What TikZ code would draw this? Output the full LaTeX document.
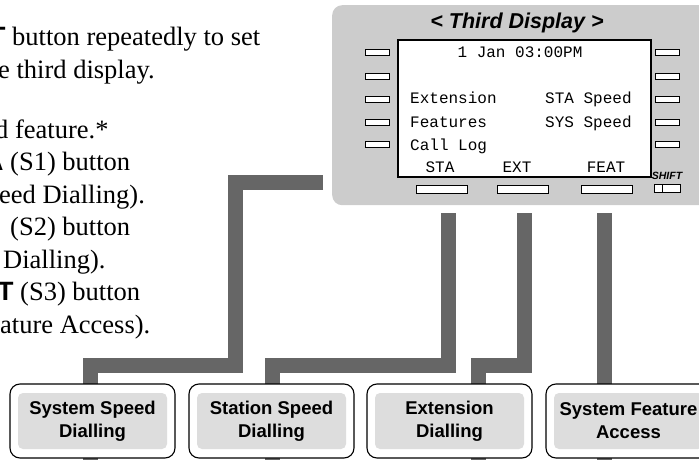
\documentclass[tikz,border=0pt]{standalone}
\usepackage{fontspec}
\setmainfont{Liberation Serif}
\setsansfont{Liberation Sans}
\setmonofont{Liberation Mono}
\definecolor{panelgray}{HTML}{CCCCCC}
\definecolor{conngray}{HTML}{666666}
\definecolor{boxgray}{HTML}{DDDDDD}
\tikzset{
 body/.style={anchor=base west, inner sep=0pt, font=\fontsize{26.5}{31}\selectfont},
 lcd/.style={inner sep=0pt, font=\ttfamily\fontsize{16}{18}\selectfont},
 sidebtn/.style={draw=black, line width=0.8pt, fill=white, minimum width=24pt, minimum height=6pt, inner sep=0pt},
 softbtn/.style={draw=black, line width=0.8pt, fill=white, minimum width=51pt, minimum height=8pt, inner sep=0pt},
 conn/.style={draw=conngray, line width=15pt},
 outerbox/.style={draw=black, line width=1.1pt, fill=white, rounded corners=10pt, minimum width=165pt, minimum height=74pt, inner sep=0pt},
 innerbox/.style={fill=boxgray, rounded corners=5pt, minimum width=149pt, minimum height=56pt, inner sep=0pt, align=center, font=\sffamily\bfseries\fontsize{18.5}{23}\selectfont},
}
\begin{document}
\begin{tikzpicture}[x=1pt,y=-1pt]
\useasboundingbox (0,0) rectangle (699,460);
\clip (0,0) rectangle (699,460);

% instruction text (cut at the left edge, as in the reference)
\node[body] (l1) at (12,46) {\llap{{\sffamily\bfseries T}\ }button repeatedly to set};
\node[body] (l2) at (-2,78.5) {e third display.};
\node[body] (l3) at (-5,138) {d feature.*};
\node[body] (l4) at (10,170.5) {\llap{{\sffamily\bfseries A}\ }(S1) button};
\node[body] (l5) at (-1,203) {eed Dialling).};
\node[body] (l6) at (10,235.5) {(S2) button};
\node[body] (l7) at (3,268) {Dialling).};
\node[body] (l8) at (20,300.5) {\llap{{\sffamily\bfseries AT}\ }(S3) button};
\node[body] (l9) at (0,333) {ature Access).};

% telephone panel
\node[fill=panelgray, rounded corners=10pt, minimum width=388pt, minimum height=200pt, inner sep=0pt, anchor=north west] (panel) at (332,5) {};
\node[inner sep=0pt, font=\sffamily\bfseries\itshape\fontsize{21.5}{24}\selectfont] (title) at (517,23) {< Third Display >};
\node[draw=black, line width=2pt, fill=white, minimum width=253pt, minimum height=137pt, inner sep=0pt, anchor=north west] (screen) at (397,39) {};

\node[lcd, anchor=base] (clock) at (520,58) {1 Jan 03:00PM};
\node[lcd, anchor=base west] (m1) at (410,103) {Extension};
\node[lcd, anchor=base west] (m2) at (410,127) {Features};
\node[lcd, anchor=base west] (m3) at (410,150) {Call Log};
\node[lcd, anchor=base west] (m4) at (545,103) {STA Speed};
\node[lcd, anchor=base west] (m5) at (545,127) {SYS Speed};
\node[lcd, anchor=base] (k1) at (440,172) {STA};
\node[lcd, anchor=base] (k2) at (517,172) {EXT};
\node[lcd, anchor=base] (k3) at (606,172) {FEAT};

% side buttons
\foreach \yy [count=\i] in {52.7,76,99,122.7,144}{
  \node[sidebtn] (lb\i) at (377,\yy) {};
  \node[sidebtn] (rb\i) at (667.5,\yy) {};
}
% soft keys
\node[softbtn] (sk1) at (441.5,189) {};
\node[softbtn] (sk2) at (523,189) {};
\node[softbtn] (sk3) at (607,189) {};
\node[draw=black, line width=0.8pt, fill=white, minimum width=26pt, minimum height=8pt, inner sep=0pt] (shiftkey) at (667,188.5) {};
\draw[line width=0.8pt] (662,184.5) -- (662,192.5);
\node[inner sep=0pt, font=\sffamily\bfseries\itshape\fontsize{10.5}{12}\selectfont] (shiftlbl) at (667,176) {SHIFT};

% connector coordinates
\coordinate (bottom) at (0,470);
\coordinate (sD) at (323,182);
\coordinate (dA) at (235,182);
\coordinate (dB) at (235,365.5);
\coordinate (dC) at (90.5,365.5);
\coordinate (sA) at (448,213);
\coordinate (aC) at (272.5,365.5);
\coordinate (sB) at (524.5,213);
\coordinate (bC) at (478,365.5);
\coordinate (sC) at (604.5,213);

\draw[conn] (sD) -- (dA) -- (dB) -- (dC) -- (dC |- bottom);
\draw[conn] (sA) |- (aC) -- (aC |- bottom);
\draw[conn] (sB) |- (bC) -- (bC |- bottom);
\draw[conn] (sC) -- (sC |- bottom);

% target boxes
\node[outerbox] (b1) at (92.5,421) {};
\node[innerbox] (t1) at (b1) {System Speed\\Dialling};
\node[outerbox] (b2) at (271.5,421) {};
\node[innerbox] (t2) at (b2) {Station Speed\\Dialling};
\node[outerbox] (b3) at (449.5,421) {};
\node[innerbox] (t3) at (b3) {Extension\\Dialling};
\node[outerbox] (b4) at (628.5,421) {};
\node[innerbox] (t4) at (b4) {System Feature\\Access};
\end{tikzpicture}
\end{document}
